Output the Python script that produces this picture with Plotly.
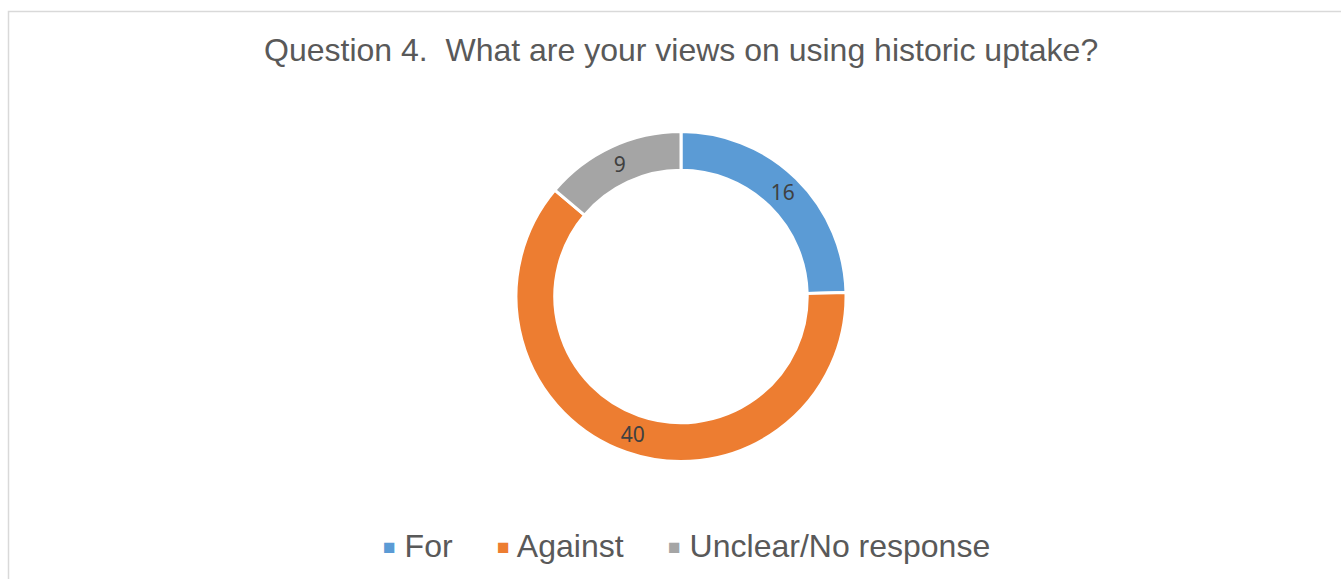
import plotly.graph_objects as go

# Survey responses for question 4
categories = ["For", "Against", "Unclear/No response"]
responses = [16, 40, 9]
slice_colors = ["#5B9BD5", "#ED7D31", "#A5A5A5"]

title_text = "Question 4.  What are your views on using historic uptake?"

W, H = 1341, 579
cx, cy, r = 681, 296.5, 165

fig = go.Figure(
    go.Pie(
        labels=categories,
        values=responses,
        hole=0.765,
        sort=False,
        direction="clockwise",
        rotation=0,
        marker=dict(colors=slice_colors, line=dict(color="white", width=3)),
        texttemplate="%{value}",
        textposition="inside",
        insidetextorientation="horizontal",
        textfont=dict(family="Noto Sans, Open Sans, sans-serif", size=21, color="#404040"),
        domain=dict(
            x=[(cx - r) / W, (cx + r) / W],
            y=[1 - (cy + r) / H, 1 - (cy - r) / H],
        ),
        hoverinfo="label+value+percent",
        showlegend=False,
    )
)

# Legend row: coloured square marker followed by the category name
gap = "&nbsp;" * 5
legend_text = gap.join(
    f"<span style='color:{c};font-size:21px;baseline-shift:3px'>■</span> {name}"
    for name, c in zip(categories, slice_colors)
)

fig.update_layout(
    width=W,
    height=H,
    margin=dict(l=0, r=0, t=0, b=0),
    paper_bgcolor="white",
    plot_bgcolor="white",
    font=dict(family="Liberation Sans, Arial, sans-serif", color="#595959"),
    annotations=[
        dict(
            text=title_text,
            xref="paper",
            yref="paper",
            x=680.5 / W,
            y=1 - 50 / H,
            xanchor="center",
            yanchor="middle",
            showarrow=False,
            font=dict(size=32, color="#595959"),
        ),
        dict(
            text=legend_text,
            xref="paper",
            yref="paper",
            x=686.5 / W,
            y=1 - 546 / H,
            xanchor="center",
            yanchor="middle",
            showarrow=False,
            font=dict(size=32, color="#595959"),
        ),
    ],
    shapes=[
        dict(
            type="rect",
            xref="paper",
            yref="paper",
            x0=8.5 / W,
            x1=1.02,
            y0=-0.02,
            y1=1 - 11.5 / H,
            line=dict(color="#D9D9D9", width=1.5),
            fillcolor="rgba(0,0,0,0)",
            layer="below",
        )
    ],
)

fig.write_html("out.html")
